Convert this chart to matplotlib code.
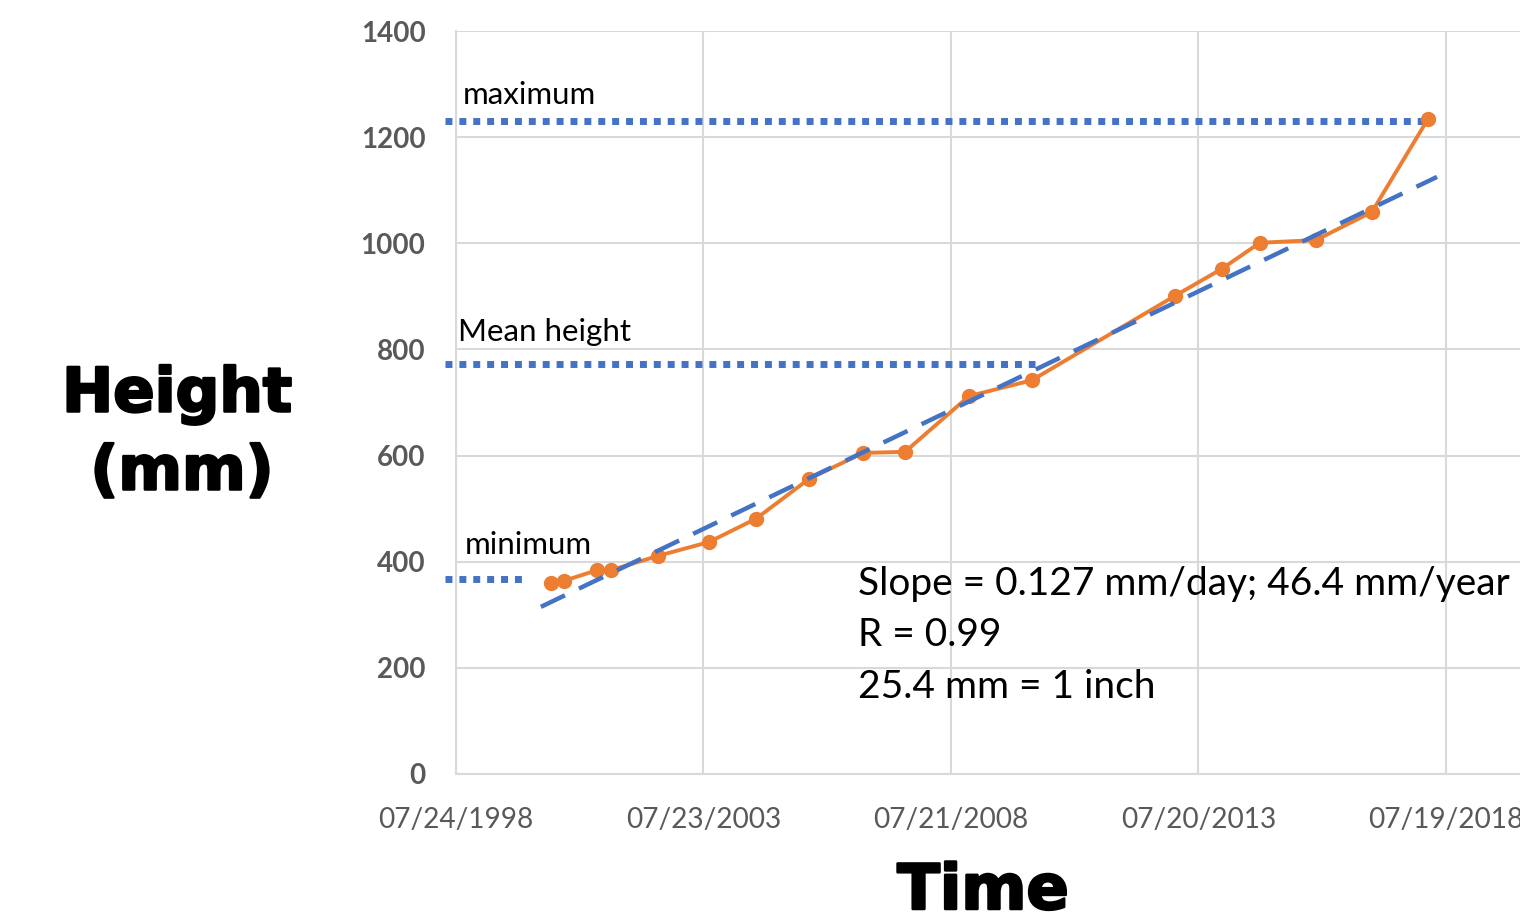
import numpy as np
import matplotlib
matplotlib.use("Agg")
import matplotlib.pyplot as plt
import matplotlib.dates as mdates
import matplotlib.patheffects as pe
from matplotlib.ticker import FixedLocator, FuncFormatter
import datetime as dt

# ---- data ----
dates = ["2000-06-23", "2000-09-27", "2001-05-29", "2001-09-09", "2002-08-21",
         "2003-09-01", "2004-08-13", "2005-09-08", "2006-10-11", "2007-08-17",
         "2008-12-01", "2010-03-10", "2013-01-28", "2014-01-09", "2014-10-16",
         "2015-12-03", "2017-01-19", "2018-03-08"]
heights = [360, 364, 384, 384, 411, 437, 481, 556, 605, 607,
           712, 742, 901, 952, 1001, 1006, 1059, 1234]

# linear trend (as drawn in the chart)
trend_slope_mm_per_day = 0.1226
trend_value_at_first_date = 324

ref_names = ["maximum", "Mean height", "minimum"]
ref_levels = [1230, 772, 367]
ref_starts = ["1998-05-04", "1998-05-04", "1998-05-04"]
ref_ends = ["2018-03-08", "2010-04-02", "1999-12-29"]

x_tick_dates = ["1998-07-24", "2003-07-23", "2008-07-21", "2013-07-20", "2018-07-19"]
y_ticks = [0, 200, 400, 600, 800, 1000, 1200, 1400]

annotation = ["Slope = 0.127 mm/day; 46.4 mm/year", "R = 0.99", "25.4 mm = 1 inch"]

# ---- helpers ----
def d2n(s):
    return mdates.date2num(dt.date.fromisoformat(s))

xd = np.array([d2n(s) for s in dates])
yv = np.array(heights, dtype=float)

ORANGE = "#ED7D31"
BLUE = "#4472C4"
GRID = "#D9D9D9"
TICKC = "#595959"

fig = plt.figure(figsize=(15.2, 9.23), dpi=100)
ax = fig.add_axes([456/1520, 1-774/923, 1-456/1520, (774-31)/923])

x0 = d2n(x_tick_dates[0])
ax.set_xlim(x0, x0 + 7846)
ax.set_ylim(0, 1400)

# grid & spines
ax.xaxis.set_major_locator(FixedLocator([d2n(s) for s in x_tick_dates]))
ax.xaxis.set_major_formatter(FuncFormatter(lambda v, p: mdates.num2date(v).strftime("%m/%d/%Y")))
ax.yaxis.set_major_locator(FixedLocator(y_ticks))
ax.grid(True, color=GRID, lw=1.5, zorder=0)
for s in ["top", "right"]:
    ax.spines[s].set_visible(False)
for s in ["left", "bottom"]:
    ax.spines[s].set_color(GRID)
    ax.spines[s].set_linewidth(1.5)
ax.tick_params(length=0)
ax.tick_params(axis="y", pad=22)
ax.tick_params(axis="x", pad=24)
for lab in ax.get_yticklabels():
    lab.set_fontfamily("Lato"); lab.set_fontweight("bold"); lab.set_fontsize(20); lab.set_color(TICKC)
for lab in ax.get_xticklabels():
    lab.set_fontfamily("Lato"); lab.set_fontsize(20.2); lab.set_color(TICKC)

# reference lines
for name, lev, s, e in zip(ref_names, ref_levels, ref_starts, ref_ends):
    ax.plot([d2n(s), d2n(e)], [lev, lev], color=BLUE, lw=5, dashes=(1, 1),
            solid_capstyle="butt", dash_capstyle="butt", clip_on=False, zorder=3)

# labels for ref lines
label_pos = {"maximum": (463, 95), "Mean height": (458, 332), "minimum": (465, 545)}
for name in ref_names:
    px, py = label_pos[name]
    fig.text(px/1520, 1-py/923, name, fontsize=22.5, family="Lato", va="center", ha="left", color="black")

# data line
ax.plot(xd, yv, color=ORANGE, lw=2.8, marker="o", ms=10, zorder=4, clip_on=False)

# linear trend
tx = np.array([xd.min() - 74, xd.max() + 67])
ty = trend_value_at_first_date + trend_slope_mm_per_day * (tx - xd.min())
ax.plot(tx, ty, color=BLUE, lw=3.2, dashes=(6, 3.5),
        dash_capstyle="butt", zorder=5, clip_on=False)

# annotation
for i, t in enumerate(annotation):
    fig.text(858/1520, 1-(584 + 51.5*i)/923, t, fontsize=28, family="Lato",
             va="center", ha="left", color="black", zorder=6)

# axis titles
stroke = [pe.withStroke(linewidth=1.8, foreground="black")]
fig.text(177/1520, 1-395/923, "Height", fontsize=44, family="DejaVu Sans", fontweight="heavy",
         ha="center", va="center", path_effects=stroke)
fig.text(182/1520, 1-473/923, "(mm)", fontsize=44, family="DejaVu Sans", fontweight="heavy",
         ha="center", va="center", path_effects=stroke)
fig.text(983/1520, 1-892/923, "Time", fontsize=45, family="DejaVu Sans", fontweight="heavy",
         ha="center", va="center", path_effects=stroke)

fig.savefig("out.png", dpi=100)
